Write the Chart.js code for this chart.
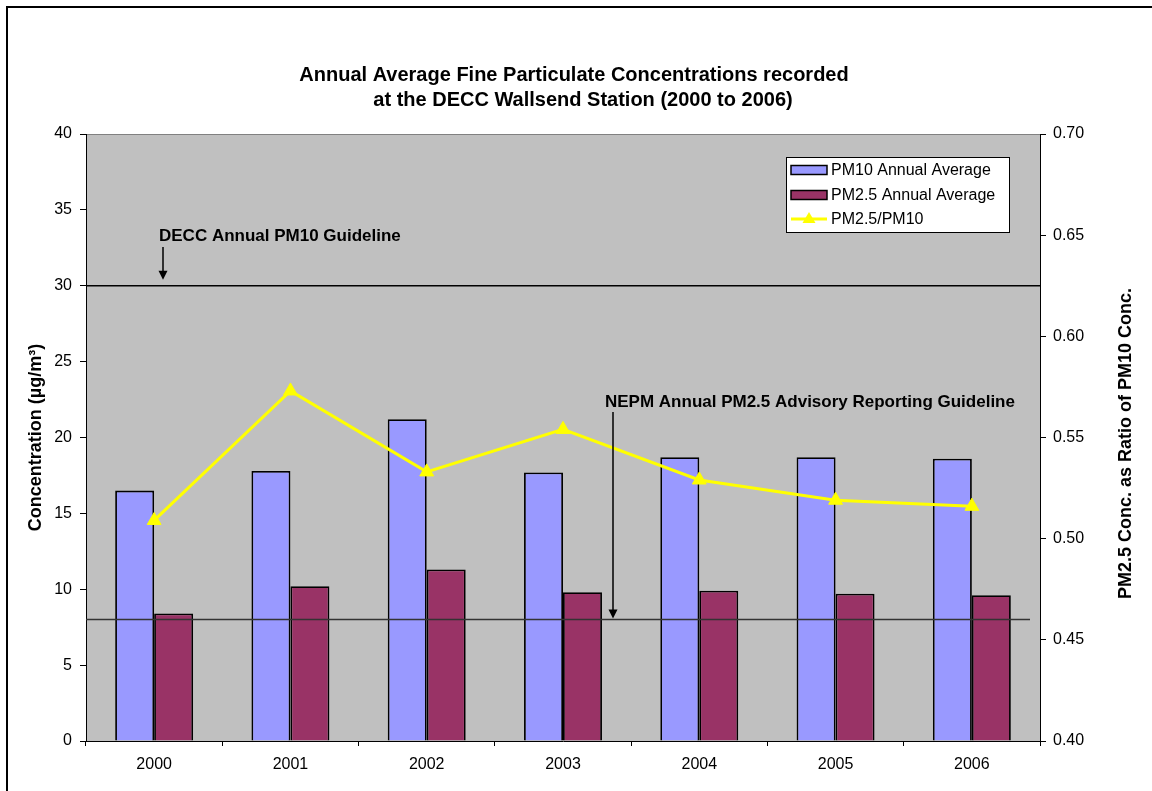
<!DOCTYPE html>
<html><head><meta charset="utf-8">
<script src="https://cdn.jsdelivr.net/npm/chart.js@4/dist/chart.umd.min.js"></script>
<style>html,body{margin:0;padding:0;background:#fff}canvas{display:block}</style>
</head><body>
<canvas id="c" width="1152" height="791"></canvas>
<script>
const years = ['2000','2001','2002','2003','2004','2005','2006'];
const pm10 = [16.5, 17.8, 21.2, 17.7, 18.7, 18.7, 18.6];
const pm25 = [8.4, 10.2, 11.3, 9.8, 9.9, 9.7, 9.6];
const ratio = [0.509, 0.573, 0.533, 0.554, 0.529, 0.519, 0.516];
const leftTicks = [0, 5, 10, 15, 20, 25, 30, 35, 40];
const rightTicks = [0.40, 0.45, 0.50, 0.55, 0.60, 0.65, 0.70];
const seriesNames = ['PM10 Annual Average', 'PM2.5 Annual Average', 'PM2.5/PM10'];
const titleLines = ['Annual Average Fine Particulate Concentrations recorded', 'at the DECC Wallsend Station (2000 to 2006)'];
const leftTitle = 'Concentration (µg/m³)';
const rightTitle = 'PM2.5 Conc. as Ratio of PM10 Conc.';
const deccGuideline = 30;
const deccLabel = 'DECC Annual PM10 Guideline';
const nepmGuideline = 8;
const nepmLabel = 'NEPM Annual PM2.5 Advisory Reporting Guideline';

const FONT = "'Liberation Sans', Arial, sans-serif";
const C_PM10 = '#9999FF', C_PM25 = '#993366', C_RATIO = '#FFFF00';

function arrow(ctx, x, y1, y2) {
  ctx.strokeStyle = '#000'; ctx.fillStyle = '#000'; ctx.lineWidth = 1.5;
  ctx.beginPath(); ctx.moveTo(x, y1); ctx.lineTo(x, y2 - 7); ctx.stroke();
  ctx.beginPath(); ctx.moveTo(x - 4.5, y2 - 9); ctx.lineTo(x + 4.5, y2 - 9); ctx.lineTo(x, y2); ctx.closePath(); ctx.fill();
}

const deco = {
  id: 'deco',
  beforeDraw(chart) {
    const { ctx, chartArea: a } = chart;
    ctx.save();
    ctx.fillStyle = '#fff'; ctx.fillRect(0, 0, chart.width, chart.height);
    ctx.fillStyle = '#C0C0C0';
    ctx.fillRect(a.left, a.top, a.right - a.left, a.bottom - a.top);
    ctx.strokeStyle = '#808080'; ctx.lineWidth = 1;
    ctx.beginPath(); ctx.moveTo(a.left, a.top + 0.5); ctx.lineTo(a.right, a.top + 0.5); ctx.stroke();
    // outer frame (left and top edges)
    ctx.strokeStyle = '#000'; ctx.lineWidth = 2;
    ctx.beginPath(); ctx.moveTo(7, chart.height); ctx.lineTo(7, 7); ctx.lineTo(chart.width, 7); ctx.stroke();
    // DECC guideline
    const y30 = chart.scales.y.getPixelForValue(deccGuideline);
    ctx.strokeStyle = '#000'; ctx.lineWidth = 1.5;
    ctx.beginPath(); ctx.moveTo(a.left, y30); ctx.lineTo(a.right, y30); ctx.stroke();
    ctx.restore();
  },
  afterDatasetsDraw(chart) {
    const { ctx, chartArea: a } = chart;
    const y8 = chart.scales.y.getPixelForValue(nepmGuideline);
    ctx.save();
    ctx.strokeStyle = '#333'; ctx.lineWidth = 1.5;
    ctx.beginPath(); ctx.moveTo(a.left, y8); ctx.lineTo(a.right - 10, y8); ctx.stroke();
    ctx.restore();
  },
  afterDraw(chart) {
    const { ctx, chartArea: a } = chart;
    const ys = chart.scales.y;
    ctx.save();
    // title
    ctx.fillStyle = '#000';
    ctx.textAlign = 'center'; ctx.textBaseline = 'middle';
    ctx.font = 'bold 20px ' + FONT;
    ctx.fillText(titleLines[0], 574, 75);
    ctx.fillText(titleLines[1], 583, 100);
    // axis titles
    const midY = (a.top + a.bottom) / 2;
    ctx.font = 'bold 18px ' + FONT;
    ctx.save(); ctx.translate(36, midY); ctx.rotate(-Math.PI / 2); ctx.fillText(leftTitle, 0, 0); ctx.restore();
    ctx.save(); ctx.translate(1126, midY + 6); ctx.rotate(-Math.PI / 2); ctx.fillText(rightTitle, 0, 0); ctx.restore();
    // annotations
    ctx.font = 'bold 17px ' + FONT;
    ctx.textAlign = 'left';
    const y30 = ys.getPixelForValue(deccGuideline);
    ctx.fillText(deccLabel, 159, 236);
    arrow(ctx, 163, 247, y30 - 6);
    const y8 = ys.getPixelForValue(nepmGuideline);
    ctx.fillText(nepmLabel, 605, 402);
    arrow(ctx, 613, 412, y8 - 1);
    // legend
    const lx = 786, ly = 157, lw = 223, lh = 75;
    ctx.fillStyle = '#fff'; ctx.fillRect(lx, ly, lw, lh);
    ctx.strokeStyle = '#000'; ctx.lineWidth = 1;
    ctx.strokeRect(lx + 0.5, ly + 0.5, lw, lh);
    ctx.font = '16px ' + FONT; ctx.textBaseline = 'middle';
    const rows = [170, 195, 219];
    [C_PM10, C_PM25].forEach((c, i) => {
      ctx.fillStyle = c; ctx.fillRect(791, rows[i] - 4.5, 36, 9);
      ctx.strokeStyle = '#000'; ctx.lineWidth = 1.5; ctx.strokeRect(791, rows[i] - 4.5, 36, 9);
    });
    ctx.strokeStyle = C_RATIO; ctx.lineWidth = 3;
    ctx.beginPath(); ctx.moveTo(791, rows[2]); ctx.lineTo(827, rows[2]); ctx.stroke();
    ctx.fillStyle = C_RATIO;
    ctx.beginPath(); ctx.moveTo(809, rows[2] - 7); ctx.lineTo(815.5, rows[2] + 4); ctx.lineTo(802.5, rows[2] + 4); ctx.closePath(); ctx.fill();
    ctx.fillStyle = '#000';
    seriesNames.forEach((n, i) => ctx.fillText(n, 831, rows[i] + 1));
    ctx.restore();
  }
};

new Chart(document.getElementById('c'), {
  data: {
    labels: years,
    datasets: [
      { type: 'line', label: seriesNames[2], data: ratio, yAxisID: 'y1', order: 0,
        borderColor: C_RATIO, borderWidth: 3, tension: 0,
        pointStyle: 'triangle', pointRadius: 8, pointBackgroundColor: C_RATIO, pointBorderColor: C_RATIO, pointBorderWidth: 1 },
      { type: 'bar', label: seriesNames[0], data: pm10, yAxisID: 'y', order: 1,
        backgroundColor: C_PM10, borderColor: '#000', borderWidth: 1.8,
        barPercentage: 1, categoryPercentage: 0.572 },
      { type: 'bar', label: seriesNames[1], data: pm25, yAxisID: 'y', order: 1,
        backgroundColor: C_PM25, borderColor: '#000', borderWidth: 1.8,
        barPercentage: 1, categoryPercentage: 0.572 }
    ]
  },
  options: {
    responsive: false, animation: false, devicePixelRatio: 1,
    layout: { padding: { top: 134, left: 0, right: 0, bottom: 0 } },
    plugins: { legend: { display: false }, tooltip: { enabled: false }, title: { display: false } },
    scales: {
      x: {
        grid: { offset: true, drawOnChartArea: false, drawTicks: true, tickLength: 5, color: '#000', tickColor: '#000' },
        border: { color: '#000', width: 1 },
        ticks: { color: '#000', font: { family: FONT, size: 16 }, padding: 9, maxRotation: 0 },
        afterFit(s) { s.height = 50; }
      },
      y: {
        position: 'left', min: 0, max: 40,
        grid: { drawOnChartArea: false, drawTicks: true, tickLength: 6, color: '#000', tickColor: '#000' },
        border: { color: '#000', width: 1 },
        ticks: { color: '#000', font: { family: FONT, size: 16 }, padding: 8 },
        afterBuildTicks(s) { s.ticks = leftTicks.map(v => ({ value: v })); },
        afterFit(s) { s.width = 86; }
      },
      y1: {
        position: 'right', min: 0.4, max: 0.7,
        grid: { drawOnChartArea: false, drawTicks: true, tickLength: 6, color: '#000', tickColor: '#000' },
        border: { color: '#000', width: 1 },
        ticks: { color: '#000', font: { family: FONT, size: 16 }, padding: 7, callback: v => Number(v).toFixed(2) },
        afterBuildTicks(s) { s.ticks = rightTicks.map(v => ({ value: v })); },
        afterFit(s) { s.width = 112; }
      }
    }
  },
  plugins: [deco]
});
</script>
</body></html>
